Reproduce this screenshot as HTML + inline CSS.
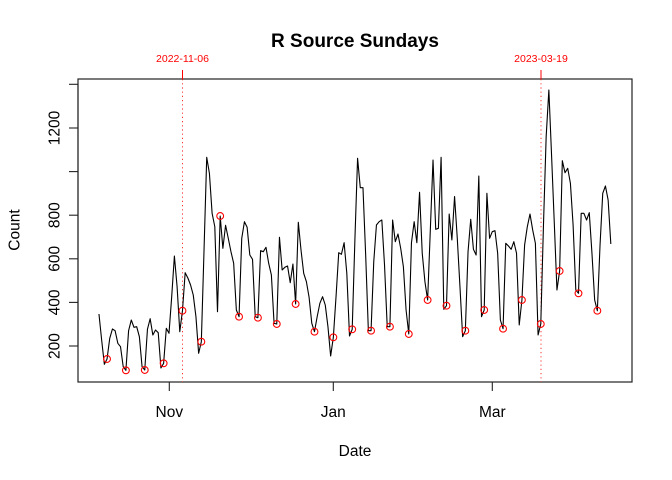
<!DOCTYPE html>
<html><head><meta charset="utf-8"><style>
html,body{margin:0;padding:0;background:#fff;}
svg{display:block;}
text{font-family:"Liberation Sans",Arial,sans-serif;}
</style></head><body>
<svg width="672" height="480" viewBox="0 0 672 480" xmlns="http://www.w3.org/2000/svg">
<rect width="672" height="480" fill="#fff"/>
<text x="355" y="47" text-anchor="middle" font-size="19" font-weight="bold" fill="#000">R Source Sundays</text>
<rect x="78" y="79" width="554" height="303" fill="none" stroke="#222" stroke-width="1.2"/>
<!-- y axis -->
<g stroke="#222" stroke-width="1.1">
<line x1="78" y1="84.3" x2="78" y2="346"/>
<line x1="69" y1="84.3" x2="78" y2="84.3"/>
<line x1="69" y1="128" x2="78" y2="128"/>
<line x1="69" y1="171.6" x2="78" y2="171.6"/>
<line x1="69" y1="215.2" x2="78" y2="215.2"/>
<line x1="69" y1="258.8" x2="78" y2="258.8"/>
<line x1="69" y1="302.4" x2="78" y2="302.4"/>
<line x1="69" y1="346" x2="78" y2="346"/>
<!-- x axis -->
<line x1="169.3" y1="382" x2="492.3" y2="382"/>
<line x1="169.3" y1="382" x2="169.3" y2="391"/>
<line x1="333.3" y1="382" x2="333.3" y2="391"/>
<line x1="492.3" y1="382" x2="492.3" y2="391"/>
</g>
<g font-size="15.5" fill="#000">
<text transform="translate(59.5,346) rotate(-90)" text-anchor="middle">200</text>
<text transform="translate(59.5,302.4) rotate(-90)" text-anchor="middle">400</text>
<text transform="translate(59.5,258.8) rotate(-90)" text-anchor="middle">600</text>
<text transform="translate(59.5,215.2) rotate(-90)" text-anchor="middle">800</text>
<text transform="translate(59.5,128) rotate(-90)" text-anchor="middle">1200</text>
<text transform="translate(19.5,230) rotate(-90)" text-anchor="middle">Count</text>
<text x="169.3" y="417" text-anchor="middle">Nov</text>
<text x="333.3" y="417" text-anchor="middle">Jan</text>
<text x="492.3" y="417" text-anchor="middle">Mar</text>
<text x="355" y="456" text-anchor="middle">Date</text>
</g>
<!-- red markers -->
<g stroke="#ff0000" stroke-width="1">
<line x1="182.5" y1="70" x2="182.5" y2="79"/>
<line x1="541" y1="70" x2="541" y2="79"/>
<line x1="182.5" y1="79" x2="182.5" y2="382" stroke-dasharray="1.2,3" opacity="0.8"/>
<line x1="541" y1="79" x2="541" y2="382" stroke-dasharray="1.2,3" opacity="0.8"/>
</g>
<g font-size="10.5" fill="#ff0000">
<text x="182.5" y="62" text-anchor="middle">2022-11-06</text>
<text x="541" y="62" text-anchor="middle">2023-03-19</text>
</g>
<polyline fill="none" stroke="#000" stroke-width="1.1" stroke-linejoin="round" points="
98.96,314 101.65,340 104.35,364.3 107.04,359 109.74,338.3 112.43,329 115.12,330.7 117.82,343.3 120.51,346.7 123.21,366.7
125.90,370.3 128.59,330.7 131.29,320 133.98,327.3 136.68,326.7 139.37,336.7 142.06,366.7 144.76,370 147.45,329.3 150.15,318.7
152.84,335 155.53,330 158.23,332.7 160.92,368 163.62,363.3 166.31,328.3 169.00,333.3 171.70,296.7 174.39,256 177.09,286.7
179.78,331.7 182.47,310.7 185.17,272.7 187.86,278 190.56,285 193.25,295 195.94,316.7 198.64,353.3 201.33,341.7 204.03,250
206.72,157.3 209.41,173.3 212.11,213.3 214.80,226.7 217.50,311.7 220.19,216 222.88,248.3 225.58,225.3 228.27,238.3 230.97,251.7
233.66,263.3 236.35,310 239.05,316.7 241.74,238.3 244.44,221.7 247.13,227.3 249.82,255 252.52,259.3 255.21,316.7 257.91,317.7
260.60,250.7 263.29,251.7 265.99,247.3 268.68,263.3 271.38,275 274.07,323.3 276.76,324 279.46,237.3 282.15,270 284.85,267.3
287.54,266 290.23,282.7 292.93,264 295.62,304 298.32,222.3 301.01,250 303.70,273.3 306.40,281.7 309.09,297.3 311.79,323.3
314.48,331.7 317.17,316.7 319.87,303.3 322.56,296.7 325.26,305 327.95,326.7 330.64,356 333.34,337.3 336.03,296.7 338.73,252.7
341.42,254.3 344.11,242.7 346.81,273.3 349.50,336 352.20,329.3 354.89,240 357.58,158.3 360.28,187.7 362.97,187.7 365.67,255
368.36,330.7 371.05,330.7 373.75,261.7 376.44,225 379.14,221.7 381.83,220 384.52,265 387.22,326.7 389.91,326.7 392.61,220
395.30,241.7 397.99,234 400.69,248.3 403.38,266.7 406.08,310 408.77,334 411.46,242.7 414.16,221.7 416.85,242.7 419.55,192.3
422.24,253.3 424.93,281.7 427.63,300 430.32,230 433.02,160 435.71,229.3 438.40,228.3 441.10,157.3 443.79,309.3 446.49,305.7
449.18,214 451.87,240 454.57,196.5 457.26,238 459.96,286.7 462.65,336.7 465.34,330.7 468.04,251.7 470.73,219.3 473.43,249.3
476.12,255 478.81,176 481.51,316.7 484.20,310 486.90,193.3 489.59,238.3 492.28,231.7 494.98,230.7 497.67,253.3 500.37,320
503.06,328.7 505.75,243.3 508.45,246 511.14,249.3 513.84,241.7 516.53,253.3 519.22,325 521.92,300 524.61,245 527.31,226.7
530.00,214 532.69,230 535.39,243.3 538.08,335 540.78,324 543.47,225 546.16,136.7 548.86,90 551.55,155 554.25,222
556.94,290 559.63,271 562.33,160.7 565.02,172.7 567.72,168.3 570.41,183.3 573.10,225 575.80,290 578.49,293.3 581.19,213.3
583.88,213.3 586.57,220 589.27,212.7 591.96,253.3 594.66,300 597.35,310.7 600.04,245 602.74,193.3 605.43,186 608.13,200
610.82,244"/>
<g fill="none" stroke="#ff0000" stroke-width="1.1">
<circle cx="107.04" cy="359" r="3.4"/>
<circle cx="125.90" cy="370.3" r="3.4"/>
<circle cx="144.76" cy="370" r="3.4"/>
<circle cx="163.62" cy="363.3" r="3.4"/>
<circle cx="182.47" cy="310.7" r="3.4"/>
<circle cx="201.33" cy="341.7" r="3.4"/>
<circle cx="220.19" cy="216" r="3.4"/>
<circle cx="239.05" cy="316.7" r="3.4"/>
<circle cx="257.91" cy="317.7" r="3.4"/>
<circle cx="276.76" cy="324" r="3.4"/>
<circle cx="295.62" cy="304" r="3.4"/>
<circle cx="314.48" cy="331.7" r="3.4"/>
<circle cx="333.34" cy="337.3" r="3.4"/>
<circle cx="352.20" cy="329.3" r="3.4"/>
<circle cx="371.05" cy="330.7" r="3.4"/>
<circle cx="389.91" cy="326.7" r="3.4"/>
<circle cx="408.77" cy="334" r="3.4"/>
<circle cx="427.63" cy="300" r="3.4"/>
<circle cx="446.49" cy="305.7" r="3.4"/>
<circle cx="465.34" cy="330.7" r="3.4"/>
<circle cx="484.20" cy="310" r="3.4"/>
<circle cx="503.06" cy="328.7" r="3.4"/>
<circle cx="521.92" cy="300" r="3.4"/>
<circle cx="540.78" cy="324" r="3.4"/>
<circle cx="559.63" cy="271" r="3.4"/>
<circle cx="578.49" cy="293.3" r="3.4"/>
<circle cx="597.35" cy="310.7" r="3.4"/>
</g>
</svg>
</body></html>
